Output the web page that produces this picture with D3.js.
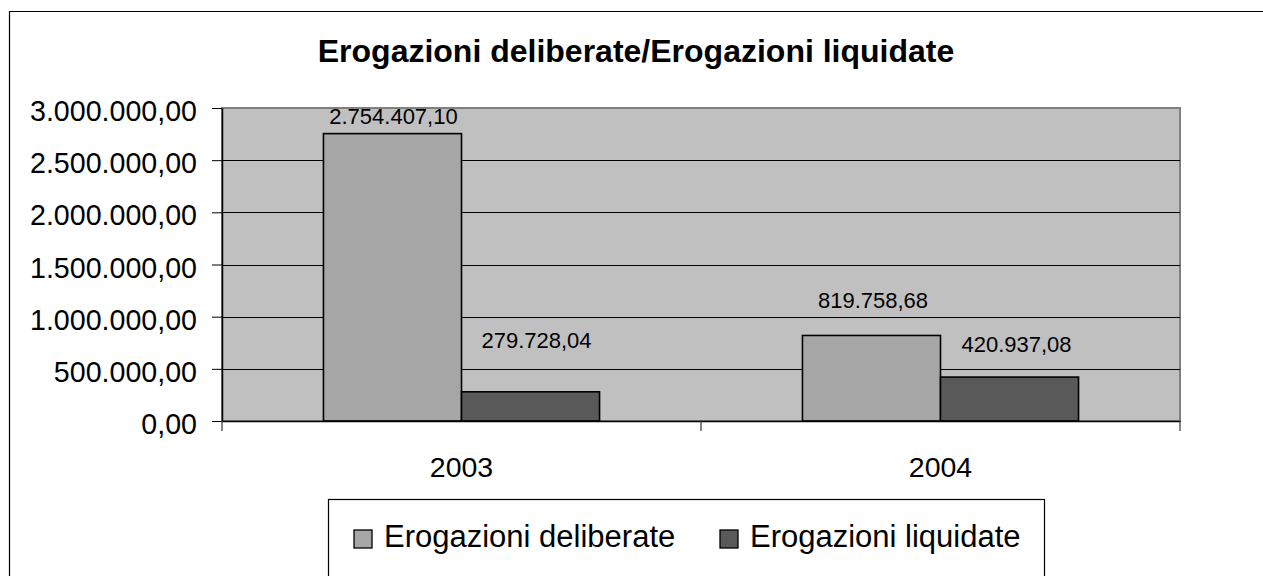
<!DOCTYPE html>
<html>
<head>
<meta charset="utf-8">
<script src="https://cdn.jsdelivr.net/npm/d3@7"></script>
<style>
  body { margin: 0; background: #fff; overflow: hidden; }
  svg { display: block; font-family: Arial, "Liberation Sans", sans-serif; }
</style>
</head>
<body>
<div id="vis"></div>
<script>
var years = ['2003', '2004'];
var series_names = ['Erogazioni deliberate', 'Erogazioni liquidate'];
var deliberate = [2754407.10, 819758.68];
var liquidate = [279728.04, 420937.08];
var y_ticks = [0, 500000, 1000000, 1500000, 2000000, 2500000, 3000000];

var color_bars = ['#A6A6A6', '#595959'];
// hand placed data labels, offset from top centre of each bar [dx, dy]
var label_nudge = [[[1, -10], [6, -44]], [[1.5, -27], [7, -25]]];

var width = 1263, height = 576;
var plot = { left: 222, right: 1180, top: 108, bottom: 421 };

var it = d3.formatLocale({ decimal: ',', thousands: '.', grouping: [3], currency: ['€', ''] });
var fmt = it.format(',.2f');

var svg = d3.select('#vis')
    .append('svg')
    .attr('width', width)
    .attr('height', height);

// outer chart frame: only the left and top edges are inside the picture
svg.append('path')
    .attr('d', 'M9.5,' + height + 'V11.5H' + width)
    .attr('fill', 'none')
    .attr('stroke', '#000')
    .attr('stroke-width', 1.2);

svg.append('text')
    .attr('x', 636)
    .attr('y', 62)
    .attr('text-anchor', 'middle')
    .style('font-weight', 'bold')
    .style('font-size', '32px')
    .text('Erogazioni deliberate/Erogazioni liquidate');

var x0 = d3.scaleBand()
    .domain(years)
    .range([plot.left, plot.right])
    .padding(0);

var x1 = d3.scaleBand()
    .domain(series_names)
    .range([0, x0.bandwidth()])
    .paddingInner(0)
    .paddingOuter(0.735);

var y_scale = d3.scaleLinear()
    .domain([0, 3000000])
    .range([plot.bottom, plot.top]);

// plot background
svg.append('rect')
    .attr('x', plot.left).attr('y', plot.top)
    .attr('width', plot.right - plot.left)
    .attr('height', plot.bottom - plot.top)
    .attr('fill', '#C0C0C0')
    .attr('stroke', '#808080')
    .attr('stroke-width', 2);

// gridlines
svg.append('g')
    .selectAll('line')
    .data(y_ticks.slice(1, -1))
    .enter()
    .append('line')
    .attr('x1', plot.left).attr('x2', plot.right)
    .attr('y1', function(d) { return Math.round(y_scale(d)) + 0.5; })
    .attr('y2', function(d) { return Math.round(y_scale(d)) + 0.5; })
    .attr('stroke', '#000')
    .attr('stroke-width', 1);

var rows = years.map(function(yr, i) {
    return { year: yr, i: i, values: [deliberate[i], liquidate[i]] };
});

var groups = svg.append('g')
    .selectAll('g')
    .data(rows)
    .enter()
    .append('g')
    .attr('transform', function(d) { return 'translate(' + x0(d.year) + ',0)'; });

groups.selectAll('rect')
    .data(function(d) {
        return d.values.map(function(v, j) { return { row: d.i, s: j, value: v }; });
    })
    .enter()
    .append('rect')
    .attr('x', function(d) { return x1(series_names[d.s]); })
    .attr('width', x1.bandwidth())
    .attr('y', function(d) { return y_scale(d.value); })
    .attr('height', function(d) { return plot.bottom - y_scale(d.value); })
    .attr('fill', function(d) { return color_bars[d.s]; })
    .attr('stroke', '#000')
    .attr('stroke-width', 1.6);

groups.selectAll('text')
    .data(function(d) {
        return d.values.map(function(v, j) { return { row: d.i, s: j, value: v }; });
    })
    .enter()
    .append('text')
    .attr('x', function(d) { return x1(series_names[d.s]) + x1.bandwidth() / 2 + label_nudge[d.row][d.s][0]; })
    .attr('y', function(d) { return y_scale(d.value) + label_nudge[d.row][d.s][1]; })
    .attr('text-anchor', 'middle')
    .style('font-size', '22px')
    .text(function(d) { return fmt(d.value); });

// y axis
var y_axis = d3.axisLeft(y_scale)
    .tickValues(y_ticks)
    .tickSize(10)
    .tickSizeOuter(0)
    .tickPadding(15)
    .tickFormat(fmt);

var gy = svg.append('g')
    .attr('transform', 'translate(' + plot.left + ',0)')
    .call(y_axis);
gy.select('.domain').attr('stroke', '#000').attr('stroke-width', 1.5);
gy.selectAll('line').attr('stroke', '#000');
var ylabels = gy.selectAll('text')
    .attr('fill', '#000')
    .attr('dy', '0.42em')
    .style('font-size', '30px')
    .style('font-family', 'Arial, "Liberation Sans", sans-serif');

// the axis labels in the original are a bit condensed: squeeze the widest to 167px
var widest = d3.max(ylabels.nodes(), function(n) { return n.getComputedTextLength(); });
var squeeze = 167 / widest;
ylabels.each(function() {
    var w = this.getComputedTextLength();
    d3.select(this).attr('textLength', w * squeeze).attr('lengthAdjust', 'spacingAndGlyphs');
});

// x axis
var x_axis = d3.axisBottom(x0)
    .tickSize(0)
    .tickSizeOuter(0)
    .tickPadding(0);

var gx = svg.append('g')
    .attr('transform', 'translate(0,' + plot.bottom + ')')
    .call(x_axis);
gx.select('.domain').attr('stroke', '#000').attr('stroke-width', 1.5);
gx.selectAll('text')
    .attr('fill', '#000')
    .attr('y', 56)
    .attr('dy', 0)
    .style('font-size', '28.5px')
    .style('font-family', 'Arial, "Liberation Sans", sans-serif');

// category boundary ticks
gx.selectAll('.bound')
    .data([plot.left, x0('2004'), plot.right])
    .enter()
    .append('line')
    .attr('class', 'bound')
    .attr('x1', function(d) { return d; })
    .attr('x2', function(d) { return d; })
    .attr('y1', 0).attr('y2', 10)
    .attr('stroke', '#333')
    .attr('stroke-width', 1.2);

// legend
var legend = svg.append('g');
legend.append('rect')
    .attr('x', 328.5).attr('y', 499.5)
    .attr('width', 716).attr('height', 200)
    .attr('fill', '#fff')
    .attr('stroke', '#000')
    .attr('stroke-width', 1.2);

var legend_x = [354, 720];
var items = legend.selectAll('.item')
    .data(series_names)
    .enter()
    .append('g')
    .attr('class', 'item')
    .attr('transform', function(d, i) { return 'translate(' + legend_x[i] + ',530)'; });

items.append('rect')
    .attr('width', 18).attr('height', 18)
    .attr('fill', function(d, i) { return color_bars[i]; })
    .attr('stroke', '#000')
    .attr('stroke-width', 1.3);

items.append('text')
    .attr('x', 30)
    .attr('y', 17)
    .style('font-size', '31px')
    .text(function(d) { return d; });
</script>
</body>
</html>
